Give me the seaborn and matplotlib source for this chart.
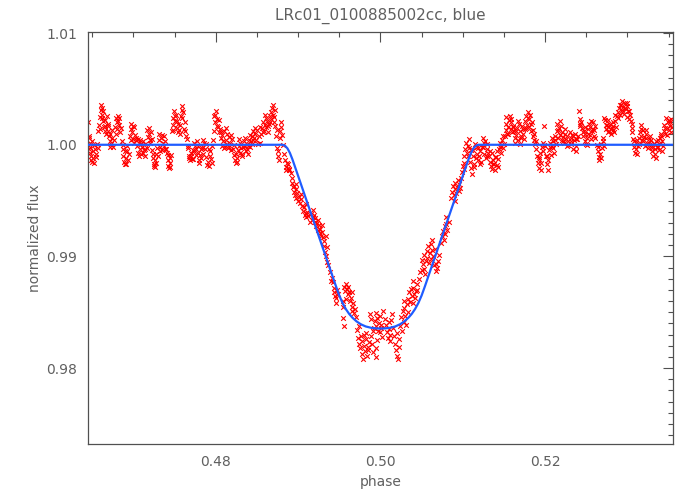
"""Folded light curve of LRc01_0100885002cc (blue channel) with transit model."""

import matplotlib
matplotlib.use("Agg")
import matplotlib.pyplot as plt
import pandas as pd
import seaborn as sns
from matplotlib.ticker import MultipleLocator, FormatStrFormatter

# measured points, split by part of the light curve
oot_left_phase = [
    0.46452, 0.46456, 0.46460, 0.46465, 0.46468, 0.46472, 0.46480, 0.46488, 0.46495, 0.46503, 0.46510, 0.46520, 0.46530, 0.46540, 0.46555, 0.46565,
    0.46575, 0.46585, 0.46592, 0.46600, 0.46608, 0.46615, 0.46622, 0.46630, 0.46640, 0.46650, 0.46660, 0.46672,
    0.46680, 0.46688, 0.46695, 0.46703, 0.46712, 0.46720, 0.46730, 0.46740, 0.46750, 0.46760,
    0.46775, 0.46785, 0.46795, 0.46805, 0.46815, 0.46825, 0.46835, 0.46845,
    0.46860, 0.46870, 0.46878, 0.46885, 0.46893, 0.46900, 0.46910, 0.46920, 0.46930, 0.46940,
    0.46955, 0.46965, 0.46975, 0.46985, 0.46995, 0.47005, 0.47015, 0.47025,
    0.47035, 0.47045, 0.47055, 0.47065, 0.47075, 0.47085, 0.47095, 0.47105, 0.47115, 0.47125, 0.47135, 0.47145, 0.47160,
    0.47170, 0.47180, 0.47190, 0.47200, 0.47210, 0.47220,
    0.47230, 0.47238, 0.47245, 0.47252, 0.47260, 0.47268, 0.47275, 0.47285, 0.47295,
    0.47305, 0.47315, 0.47325, 0.47335, 0.47345, 0.47355, 0.47365, 0.47375, 0.47385, 0.47400,
    0.47410, 0.47418, 0.47425, 0.47432, 0.47440, 0.47448, 0.47456,
    0.47465, 0.47475, 0.47485, 0.47495, 0.47505, 0.47515, 0.47525, 0.47535, 0.47545, 0.47555, 0.47565, 0.47575, 0.47585, 0.47595, 0.47605, 0.47615, 0.47625, 0.47640,
    0.47650, 0.47660, 0.47670, 0.47680, 0.47690, 0.47700, 0.47710, 0.47720, 0.47730, 0.47740, 0.47750, 0.47760,
    0.47770, 0.47780, 0.47790, 0.47800, 0.47810, 0.47820, 0.47830, 0.47840, 0.47850, 0.47860, 0.47870, 0.47880, 0.47895,
    0.47905, 0.47915, 0.47925, 0.47935, 0.47945, 0.47955,
    0.47965, 0.47975, 0.47985, 0.47995, 0.48005, 0.48015, 0.48025, 0.48040,
    0.48050, 0.48060, 0.48070, 0.48080, 0.48090, 0.48100, 0.48110, 0.48120, 0.48130, 0.48140, 0.48150, 0.48160, 0.48175, 0.48190, 0.48200,
    0.48210, 0.48220, 0.48230, 0.48240, 0.48250, 0.48260, 0.48270, 0.48280, 0.48290, 0.48300, 0.48310, 0.48320, 0.48330, 0.48345,
    0.48355, 0.48365, 0.48375, 0.48385, 0.48395, 0.48405, 0.48415, 0.48425, 0.48435, 0.48445, 0.48455, 0.48465, 0.48475, 0.48490, 0.48505, 0.48520, 0.48535, 0.48550,
    0.48565, 0.48575, 0.48585, 0.48595, 0.48605, 0.48615, 0.48625, 0.48635, 0.48645, 0.48655, 0.48665, 0.48675, 0.48685, 0.48695, 0.48705, 0.48715,
    0.48725, 0.48735, 0.48745, 0.48755, 0.48765, 0.48775, 0.48785, 0.48795, 0.48805, 0.48815,
]
oot_left_flux = [
    1.0020, 1.0008, 0.9996, 1.0006, 0.9993, 0.9998, 0.9990, 0.9986, 1.0003, 0.9994, 0.9988, 0.9984, 0.9996, 0.9992, 1.0001, 0.9997,
    1.0012, 1.0018, 1.0025, 1.0031, 1.0036, 1.0033, 1.0027, 1.0021, 1.0016, 1.0022, 1.0017, 1.0010,
    1.0026, 1.0019, 1.0012, 1.0008, 1.0003, 1.0010, 1.0001, 1.0006, 0.9998, 1.0004,
    1.0016, 1.0024, 1.0020, 1.0014, 1.0026, 1.0018, 1.0011, 1.0015,
    1.0003, 0.9996, 0.9990, 0.9985, 0.9983, 0.9994, 0.9988, 0.9999, 0.9986, 0.9992,
    1.0008, 1.0014, 1.0019, 1.0011, 1.0005, 1.0016, 1.0009, 1.0004,
    1.0006, 0.9999, 0.9993, 1.0002, 0.9996, 1.0004, 0.9992, 0.9998, 1.0003, 0.9995, 0.9990, 1.0001, 0.9997,
    1.0013, 1.0007, 1.0010, 1.0002, 1.0011, 1.0005,
    0.9995, 0.9988, 0.9983, 0.9981, 0.9986, 0.9992, 0.9984, 0.9997, 0.9990,
    1.0004, 1.0010, 0.9998, 1.0006, 0.9995, 1.0002, 1.0008, 0.9999, 1.0003, 0.9996,
    0.9993, 0.9986, 0.9981, 0.9979, 0.9988, 0.9984, 0.9991,
    1.0012, 1.0018, 1.0024, 1.0030, 1.0021, 1.0027, 1.0015, 1.0011, 1.0019, 1.0013, 1.0010, 1.0026, 1.0031, 1.0035, 1.0029, 1.0014, 1.0012, 1.0008,
    1.0005, 0.9997, 0.9990, 0.9988, 0.9986, 0.9990, 0.9987, 0.9995, 1.0002, 0.9994, 0.9999, 0.9991,
    1.0003, 0.9993, 0.9986, 0.9984, 0.9991, 0.9988, 0.9997, 1.0004, 0.9998, 1.0002, 0.9996, 0.9989, 0.9982,
    0.9985, 0.9981, 0.9990, 0.9994, 0.9987, 0.9999,
    1.0004, 1.0012, 1.0020, 1.0027, 1.0030, 1.0023, 1.0016, 1.0011,
    1.0014, 1.0006, 0.9999, 1.0009, 1.0003, 1.0012, 0.9998, 1.0004, 1.0010, 1.0001, 0.9997, 1.0007, 1.0002, 0.9995, 1.0005,
    0.9996, 0.9991, 0.9986, 0.9984, 0.9992, 0.9988, 0.9995, 0.9999, 0.9993, 1.0002, 0.9997, 0.9990, 0.9998, 1.0003,
    0.9999, 0.9994, 1.0001, 0.9996, 0.9992, 1.0004, 0.9998, 1.0003, 1.0008, 1.0001, 1.0012, 1.0006, 1.0010, 1.0004, 1.0013, 1.0008, 1.0002, 1.0010,
    1.0015, 1.0020, 1.0012, 1.0018, 1.0024, 1.0016, 1.0021, 1.0011, 1.0019, 1.0026, 1.0029, 1.0023, 1.0033, 1.0027, 1.0020, 1.0031,
    1.0017, 1.0008, 0.9997, 0.9990, 0.9986, 1.0012, 1.0006, 1.0016, 1.0009, 1.0000,
]

ingress_phase = [
    0.48830, 0.48840, 0.48850, 0.48858, 0.48865, 0.48875, 0.48885, 0.48895,
    0.48920, 0.48930, 0.48938, 0.48945, 0.48952, 0.48960, 0.48970, 0.48980, 0.48990, 0.49000, 0.49010, 0.49020, 0.49030,
    0.49050, 0.49060, 0.49070, 0.49080, 0.49090, 0.49100, 0.49110, 0.49125, 0.49140, 0.49155, 0.49165,
    0.49180, 0.49190, 0.49200, 0.49210, 0.49220, 0.49230, 0.49240, 0.49250, 0.49260, 0.49270, 0.49280, 0.49290, 0.49300,
    0.49310, 0.49320, 0.49330, 0.49335, 0.49340, 0.49350, 0.49360,
    0.49385, 0.49410, 0.49420, 0.49430, 0.49440, 0.49450, 0.49460, 0.49470, 0.49480,
]
ingress_flux = [
    0.9992, 0.9986, 0.9980, 0.9977, 0.9984, 0.9979, 0.9978, 0.9977,
    0.9970, 0.9966, 0.9962, 0.9958, 0.9963, 0.9955, 0.9960, 0.9952, 0.9957, 0.9950, 0.9953, 0.9948, 0.9951,
    0.9945, 0.9941, 0.9944, 0.9937, 0.9939, 0.9935, 0.9940, 0.9936, 0.9931, 0.9938, 0.9933,
    0.9942, 0.9937, 0.9931, 0.9934, 0.9927, 0.9930, 0.9924, 0.9928, 0.9921, 0.9925, 0.9918, 0.9922, 0.9917,
    0.9914, 0.9909, 0.9904, 0.9918, 0.9900, 0.9895, 0.9892,
    0.9886, 0.9881, 0.9877, 0.9872, 0.9868, 0.9865, 0.9863, 0.9870, 0.9866,
]

bottom_phase = [
    0.49540, 0.49550, 0.49545, 0.49555, 0.49560, 0.49570, 0.49580, 0.49590, 0.49600, 0.49610, 0.49620, 0.49630, 0.49640, 0.49650, 0.49660, 0.49670, 0.49680, 0.49690, 0.49700,
    0.49720, 0.49730, 0.49740, 0.49750, 0.49760, 0.49770, 0.49780, 0.49790, 0.49800, 0.49810, 0.49820, 0.49830, 0.49840, 0.49850, 0.49860,
    0.49870, 0.49880, 0.49890, 0.49900, 0.49910, 0.49920, 0.49930, 0.49940, 0.49940, 0.49950, 0.49950, 0.49960, 0.49960, 0.49970, 0.49980, 0.49990, 0.50000, 0.50010, 0.50020,
    0.50035, 0.50050, 0.50070, 0.50080, 0.50090, 0.50100, 0.50110, 0.50120, 0.50130, 0.50140,
    0.50155, 0.50165, 0.50180, 0.50190, 0.50200, 0.50210, 0.50220, 0.50230,
]
bottom_flux = [
    0.9860, 0.9855, 0.9845, 0.9838, 0.9873, 0.9869, 0.9875, 0.9871, 0.9866, 0.9873, 0.9868, 0.9860, 0.9863, 0.9855, 0.9851, 0.9858, 0.9849, 0.9853, 0.9846,
    0.9834, 0.9827, 0.9822, 0.9818, 0.9829, 0.9813, 0.9824, 0.9808, 0.9820, 0.9815, 0.9831, 0.9826, 0.9811, 0.9819, 0.9823,
    0.9848, 0.9844, 0.9829, 0.9822, 0.9814, 0.9836, 0.9842, 0.9849, 0.9818, 0.9838, 0.9810, 0.9845, 0.9825, 0.9833, 0.9840, 0.9832, 0.9847, 0.9836, 0.9828,
    0.9851, 0.9844, 0.9839, 0.9832, 0.9827, 0.9835, 0.9824, 0.9830, 0.9843, 0.9848,
    0.9836, 0.9829, 0.9822, 0.9816, 0.9811, 0.9808, 0.9819, 0.9826,
]

egress_phase = [
    0.50240, 0.50250, 0.50260, 0.50270, 0.50280, 0.50290, 0.50300, 0.50310, 0.50320, 0.50330,
    0.50340, 0.50350, 0.50360, 0.50370, 0.50380, 0.50390, 0.50400, 0.50410, 0.50420, 0.50430, 0.50440, 0.50450,
    0.50465, 0.50480,
    0.50500, 0.50510, 0.50520, 0.50530, 0.50540, 0.50550, 0.50560, 0.50570, 0.50580, 0.50590, 0.50600,
    0.50610, 0.50620, 0.50630, 0.50640, 0.50650, 0.50660, 0.50670, 0.50680, 0.50690, 0.50700,
    0.50740, 0.50750, 0.50760, 0.50770, 0.50780, 0.50790, 0.50800, 0.50810, 0.50830,
    0.50860, 0.50870, 0.50880, 0.50890, 0.50900, 0.50910, 0.50920, 0.50930, 0.50940, 0.50950, 0.50960, 0.50970, 0.50980,
    0.50990, 0.51000, 0.51010, 0.51020, 0.51030, 0.51040, 0.51050, 0.51060, 0.51070, 0.51080,
]
egress_flux = [
    0.9838, 0.9846, 0.9833, 0.9851, 0.9841, 0.9854, 0.9847, 0.9839, 0.9857, 0.9850,
    0.9862, 0.9868, 0.9859, 0.9871, 0.9865, 0.9858, 0.9872, 0.9866, 0.9863, 0.9869, 0.9875, 0.9870,
    0.9880, 0.9886,
    0.9897, 0.9888, 0.9893, 0.9901, 0.9884, 0.9896, 0.9905, 0.9899, 0.9909, 0.9894, 0.9903,
    0.9911, 0.9898, 0.9906, 0.9900, 0.9892, 0.9907, 0.9887, 0.9893, 0.9890, 0.9896,
    0.9912, 0.9918, 0.9923, 0.9915, 0.9927, 0.9920, 0.9929, 0.9924, 0.9931,
    0.9952, 0.9958, 0.9963, 0.9955, 0.9960, 0.9966, 0.9957, 0.9962, 0.9968, 0.9959, 0.9965, 0.9961, 0.9970,
    0.9976, 0.9981, 0.9984, 0.9978, 0.9996, 1.0002, 0.9993, 0.9999, 1.0005, 0.9997,
]

oot_right_phase = [
    0.51090, 0.51100, 0.51110, 0.51120, 0.51130, 0.51140, 0.51150, 0.51160, 0.51170, 0.51180, 0.51190, 0.51200, 0.51210, 0.51220, 0.51230,
    0.51240, 0.51250, 0.51260, 0.51270, 0.51280, 0.51290, 0.51300, 0.51310,
    0.51320, 0.51330, 0.51340, 0.51350, 0.51360, 0.51370, 0.51380, 0.51390, 0.51400, 0.51410, 0.51420, 0.51430,
    0.51440, 0.51450, 0.51460, 0.51470, 0.51480, 0.51490, 0.51500,
    0.51510, 0.51520, 0.51530, 0.51540, 0.51550, 0.51560, 0.51570, 0.51580, 0.51590, 0.51600, 0.51610, 0.51620,
    0.51630, 0.51640, 0.51650, 0.51660, 0.51670, 0.51680, 0.51690, 0.51700, 0.51710, 0.51720, 0.51730, 0.51740,
    0.51750, 0.51760, 0.51770, 0.51780, 0.51790, 0.51800, 0.51810, 0.51820, 0.51830, 0.51840, 0.51850, 0.51860, 0.51870, 0.51880,
    0.51890, 0.51900, 0.51910, 0.51920, 0.51930, 0.51940, 0.51950, 0.51960, 0.51970, 0.51980, 0.51990, 0.52000,
    0.52010, 0.52020, 0.52030, 0.52040, 0.52050, 0.52060, 0.52070, 0.52080, 0.52090, 0.52100, 0.52110, 0.52120, 0.52130,
    0.52140, 0.52150, 0.52160, 0.52170, 0.52180, 0.52190, 0.52200, 0.52210, 0.52220, 0.52230, 0.52240, 0.52250, 0.52260, 0.52270, 0.52280,
    0.52300, 0.52310, 0.52320, 0.52330, 0.52340, 0.52350, 0.52360, 0.52370, 0.52380, 0.52390, 0.52400,
    0.52415, 0.52420, 0.52430, 0.52440, 0.52450, 0.52460, 0.52470, 0.52480, 0.52490, 0.52500, 0.52510,
    0.52520, 0.52530, 0.52540, 0.52550, 0.52560, 0.52570, 0.52580, 0.52590, 0.52600, 0.52610,
    0.52630, 0.52640, 0.52650, 0.52660, 0.52670, 0.52680, 0.52690, 0.52700, 0.52710,
    0.52720, 0.52730, 0.52740, 0.52750, 0.52760, 0.52770, 0.52780, 0.52790, 0.52800, 0.52810, 0.52820, 0.52830, 0.52840, 0.52850, 0.52860, 0.52870, 0.52880,
    0.52890, 0.52900, 0.52910, 0.52920, 0.52930, 0.52940, 0.52950, 0.52960, 0.52970, 0.52980, 0.52990, 0.53000, 0.53010, 0.53020, 0.53030, 0.53040, 0.53050, 0.53060,
    0.53070, 0.53080, 0.53090, 0.53100, 0.53110, 0.53120, 0.53130, 0.53140,
    0.53150, 0.53160, 0.53170, 0.53180, 0.53190, 0.53200, 0.53210, 0.53220, 0.53230, 0.53240, 0.53250, 0.53260, 0.53270, 0.53280, 0.53290,
    0.53300, 0.53310, 0.53320, 0.53330, 0.53340, 0.53350, 0.53360, 0.53370, 0.53380, 0.53390, 0.53400, 0.53410, 0.53420, 0.53430,
    0.53440, 0.53450, 0.53460, 0.53470, 0.53480, 0.53490, 0.53500, 0.53510, 0.53520, 0.53530, 0.53540,
]
oot_right_flux = [
    0.9985, 0.9979, 0.9974, 0.9990, 0.9995, 0.9983, 1.0001, 0.9988, 0.9992, 0.9986, 0.9997, 0.9990, 0.9994, 0.9985, 0.9998,
    1.0006, 0.9998, 0.9992, 1.0003, 0.9988, 0.9996, 1.0001, 0.9993,
    0.9990, 0.9985, 0.9981, 0.9993, 0.9978, 0.9986, 0.9983, 0.9977, 0.9989, 0.9982, 0.9994, 0.9987,
    0.9996, 1.0002, 0.9993, 0.9999, 1.0004, 0.9997, 1.0001,
    1.0008, 1.0013, 1.0019, 1.0010, 1.0016, 1.0022, 1.0026, 1.0014, 1.0020, 1.0011, 1.0017, 1.0012,
    1.0006, 1.0002, 1.0009, 1.0015, 1.0004, 1.0019, 1.0012, 1.0001, 1.0008, 1.0017, 1.0010, 1.0005,
    1.0014, 1.0021, 1.0026, 1.0018, 1.0029, 1.0023, 1.0016, 1.0027, 1.0012, 1.0020, 1.0008, 1.0004, 1.0010, 1.0001,
    0.9996, 0.9990, 0.9984, 0.9979, 0.9987, 0.9993, 0.9977, 0.9998, 1.0002, 0.9994, 1.0017, 0.9999,
    0.9990, 0.9983, 0.9977, 0.9986, 0.9995, 1.0002, 0.9991, 1.0006, 0.9997, 1.0003, 0.9993, 1.0008, 1.0001,
    1.0012, 1.0019, 1.0006, 1.0015, 1.0009, 1.0017, 1.0004, 1.0011, 1.0007, 1.0002, 1.0010, 1.0005, 0.9999, 1.0008, 1.0003,
    1.0011, 1.0006, 1.0001, 1.0009, 0.9996, 1.0004, 1.0010, 0.9999, 0.9994, 1.0005, 1.0008,
    1.0030, 1.0023, 1.0017, 1.0020, 1.0015, 1.0008, 1.0012, 1.0003, 1.0010, 1.0001, 1.0006,
    1.0014, 1.0019, 1.0009, 1.0016, 1.0005, 1.0012, 1.0020, 1.0008, 1.0013, 1.0006,
    1.0000, 0.9994, 0.9989, 0.9986, 0.9992, 1.0001, 0.9997, 1.0003, 0.9999,
    1.0024, 1.0022, 1.0014, 1.0018, 1.0011, 1.0016, 1.0012, 1.0019, 1.0010, 1.0015, 1.0013, 1.0017, 1.0011, 1.0021, 1.0016, 1.0026, 1.0024,
    1.0029, 1.0033, 1.0027, 1.0036, 1.0031, 1.0039, 1.0034, 1.0028, 1.0037, 1.0032, 1.0025, 1.0035, 1.0030, 1.0023, 1.0027, 1.0021, 1.0015, 1.0011,
    1.0005, 0.9998, 0.9993, 1.0002, 0.9996, 1.0004, 0.9999, 1.0001,
    1.0011, 1.0018, 1.0008, 1.0004, 1.0013, 1.0007, 0.9999, 1.0006, 1.0010, 1.0002, 0.9997, 1.0005, 1.0001, 1.0008, 0.9998,
    0.9994, 0.9990, 1.0001, 0.9996, 0.9992, 1.0003, 0.9998, 1.0004, 0.9995, 1.0006, 1.0001, 1.0008, 1.0003, 0.9999,
    1.0012, 1.0018, 1.0010, 1.0024, 1.0015, 1.0020, 1.0013, 1.0022, 1.0017, 1.0011, 1.0016,
]

extra_phase = [
    0.46475, 0.46500, 0.46525, 0.46548, 0.46590, 0.46612, 0.46635, 0.46655, 0.46692, 0.46715, 0.46735,
    0.46790, 0.46810, 0.46830, 0.46875, 0.46905, 0.46925, 0.46970, 0.46990, 0.47010,
    0.47050, 0.47070, 0.47090, 0.47110, 0.47140, 0.47185, 0.47205, 0.47242, 0.47265,
    0.47320, 0.47350, 0.47380, 0.47422, 0.47445, 0.47480, 0.47500, 0.47530, 0.47560, 0.47590, 0.47620,
    0.47665, 0.47695, 0.47725, 0.47755, 0.47785, 0.47815, 0.47845, 0.47875, 0.47920, 0.47950,
    0.47980, 0.48010, 0.48035, 0.48065, 0.48095, 0.48125, 0.48155, 0.48185,
    0.48225, 0.48255, 0.48285, 0.48315, 0.48360, 0.48390, 0.48420, 0.48450, 0.48480, 0.48510, 0.48540,
    0.48570, 0.48600, 0.48630, 0.48660, 0.48690, 0.48710, 0.48740, 0.48760, 0.48790,
    0.48880, 0.48915, 0.48975, 0.49040, 0.49095, 0.49175, 0.49245, 0.49295, 0.49345, 0.49400, 0.49465,
    0.49585, 0.49655, 0.49735, 0.49795, 0.49845, 0.49905, 0.50005, 0.50105, 0.50195,
    0.50285, 0.50395, 0.50535, 0.50625, 0.50715, 0.50795, 0.50905, 0.51015, 0.51065,
    0.51095, 0.51135, 0.51175, 0.51215, 0.51255, 0.51295, 0.51335, 0.51365, 0.51395, 0.51425,
    0.51455, 0.51485, 0.51525, 0.51555, 0.51585, 0.51615, 0.51645, 0.51675, 0.51705, 0.51735,
    0.51765, 0.51795, 0.51825, 0.51855, 0.51895, 0.51925, 0.51955, 0.51985,
    0.52025, 0.52055, 0.52085, 0.52115, 0.52155, 0.52185, 0.52215, 0.52245, 0.52275,
    0.52315, 0.52345, 0.52375, 0.52425, 0.52455, 0.52485, 0.52505,
    0.52525, 0.52555, 0.52585, 0.52605, 0.52645, 0.52675, 0.52705,
    0.52735, 0.52765, 0.52795, 0.52825, 0.52855, 0.52905, 0.52935, 0.52965, 0.52995, 0.53025, 0.53055,
    0.53085, 0.53115, 0.53135, 0.53165, 0.53195, 0.53225, 0.53255, 0.53285,
    0.53315, 0.53345, 0.53375, 0.53405, 0.53425, 0.53455, 0.53485, 0.53515, 0.53535,
]
extra_flux = [
    1.0002, 0.9985, 1.0000, 0.9989, 1.0014, 1.0024, 1.0030, 1.0012, 1.0017, 0.9998, 1.0013,
    1.0010, 1.0021, 1.0024, 1.0000, 0.9983, 0.9994, 1.0004, 1.0017, 1.0002,
    1.0005, 0.9990, 1.0001, 0.9993, 0.9996, 1.0015, 1.0004, 0.9992, 0.9980,
    0.9994, 1.0009, 0.9996, 0.9991, 0.9980, 1.0013, 1.0026, 1.0021, 1.0018, 1.0024, 1.0020,
    0.9999, 0.9993, 0.9987, 0.9996, 0.9999, 0.9996, 0.9992, 1.0001, 0.9996, 0.9984,
    1.0026, 1.0017, 1.0022, 1.0011, 0.9997, 1.0015, 0.9998, 1.0009,
    1.0000, 0.9985, 1.0005, 0.9992, 1.0006, 0.9999, 1.0009, 1.0004, 1.0015, 1.0001, 1.0016,
    1.0011, 1.0027, 1.0017, 1.0020, 1.0036, 1.0025, 1.0013, 0.9994, 1.0020,
    0.9983, 0.9975, 0.9965, 0.9956, 0.9947, 0.9935, 0.9933, 0.9928, 0.9908, 0.9878, 0.9858,
    0.9862, 0.9868, 0.9838, 0.9830, 0.9816, 0.9833, 0.9839, 0.9841, 0.9831,
    0.9860, 0.9878, 0.9889, 0.9915, 0.9901, 0.9935, 0.9950, 0.9990, 0.9990,
    0.9995, 0.9980, 0.9998, 0.9983, 1.0002, 0.9990, 0.9994, 0.9983, 0.9989, 0.9980,
    0.9998, 1.0008, 1.0025, 1.0010, 1.0023, 1.0016, 1.0012, 1.0021, 1.0006, 1.0014,
    1.0015, 1.0024, 1.0019, 1.0013, 1.0003, 0.9989, 0.9984, 1.0000,
    0.9990, 0.9998, 0.9999, 1.0004, 1.0013, 1.0021, 1.0003, 1.0014, 1.0000,
    1.0003, 1.0008, 1.0005, 1.0019, 1.0011, 1.0016, 1.0000,
    1.0010, 1.0021, 1.0014, 1.0017, 0.9998, 0.9988, 1.0006,
    1.0018, 1.0022, 1.0014, 1.0020, 1.0027, 1.0036, 1.0029, 1.0033, 1.0037, 1.0030, 1.0019,
    1.0003, 0.9992, 1.0006, 1.0014, 1.0003, 1.0013, 1.0001, 1.0004,
    0.9998, 0.9988, 0.9998, 1.0010, 0.9994, 1.0015, 1.0009, 1.0020, 1.0023,
]

# transit model curve
model_phase = [
    0.4645, 0.4881, 0.4884, 0.4887, 0.4890, 0.4893, 0.4898, 0.4906, 0.4914, 0.4922, 0.4930,
    0.4938, 0.4946, 0.4950, 0.4954, 0.4958, 0.4962, 0.4966, 0.4971, 0.4976, 0.4982, 0.4989,
    0.4995, 0.5000, 0.5005, 0.5011, 0.5018, 0.5024, 0.5029, 0.5034, 0.5038, 0.5042, 0.5046,
    0.5050, 0.5054, 0.5062, 0.5070, 0.5078, 0.5086, 0.5094, 0.5102, 0.5107, 0.5110, 0.5113,
    0.5116, 0.5119, 0.5355,
]
model_flux = [
    1.00000, 1.00000, 0.99992, 0.99968, 0.99927, 0.99871, 0.99764, 0.99592, 0.99420, 0.99248, 0.99076,
    0.98904, 0.98732, 0.98650, 0.98582, 0.98528, 0.98485, 0.98451, 0.98418, 0.98393, 0.98373, 0.98360,
    0.98355, 0.98354, 0.98355, 0.98360, 0.98373, 0.98393, 0.98418, 0.98451, 0.98485, 0.98528, 0.98582,
    0.98650, 0.98732, 0.98904, 0.99076, 0.99248, 0.99420, 0.99592, 0.99764, 0.99871, 0.99927, 0.99968,
    0.99992, 1.00000, 1.00000,
]

sns.set_style("white")
plt.rcParams["font.family"] = ["DejaVu Sans"]
text_color = "#606060"
axis_color = "#505050"

points = pd.DataFrame({
    "phase": oot_left_phase + ingress_phase + bottom_phase + egress_phase + oot_right_phase + extra_phase,
    "flux": oot_left_flux + ingress_flux + bottom_flux + egress_flux + oot_right_flux + extra_flux,
})
model = pd.DataFrame({"phase": model_phase, "flux": model_flux})

fig = plt.figure(figsize=(7, 5), dpi=100)
ax = fig.add_axes([0.126, 0.112, 0.835, 0.824])

sns.scatterplot(data=points, x="phase", y="flux", marker="x", color="#ff0000",
                s=11, linewidth=0.8, ax=ax, zorder=2)
sns.lineplot(data=model, x="phase", y="flux", color="#1f5cff", linewidth=1.6,
             sort=False, estimator=None, ax=ax, zorder=3)

ax.set_xlim(0.4645, 0.5355)
ax.set_ylim(0.9732, 1.0101)

ax.xaxis.set_major_locator(MultipleLocator(0.02))
ax.xaxis.set_minor_locator(MultipleLocator(0.005))
ax.yaxis.set_major_locator(MultipleLocator(0.01))
ax.yaxis.set_minor_locator(MultipleLocator(0.001))
ax.xaxis.set_major_formatter(FormatStrFormatter("%.2f"))
ax.yaxis.set_major_formatter(FormatStrFormatter("%.2f"))

ax.tick_params(which="both", direction="in", top=True, right=True,
               color=axis_color, labelcolor=text_color, labelsize=10)
ax.tick_params(which="major", length=7, width=0.8, pad=8)
ax.tick_params(which="minor", length=3.5, width=0.8)
for spine in ax.spines.values():
    spine.set_color(axis_color)
    spine.set_linewidth(0.9)

ax.set_xlabel("phase", fontsize=10, color=text_color, labelpad=4)
ax.set_ylabel("normalized flux", fontsize=10, color=text_color, labelpad=3)
ax.set_title("LRc01_0100885002cc, blue", fontsize=11, color=text_color, pad=9)

fig.savefig("out.png", dpi=100)
